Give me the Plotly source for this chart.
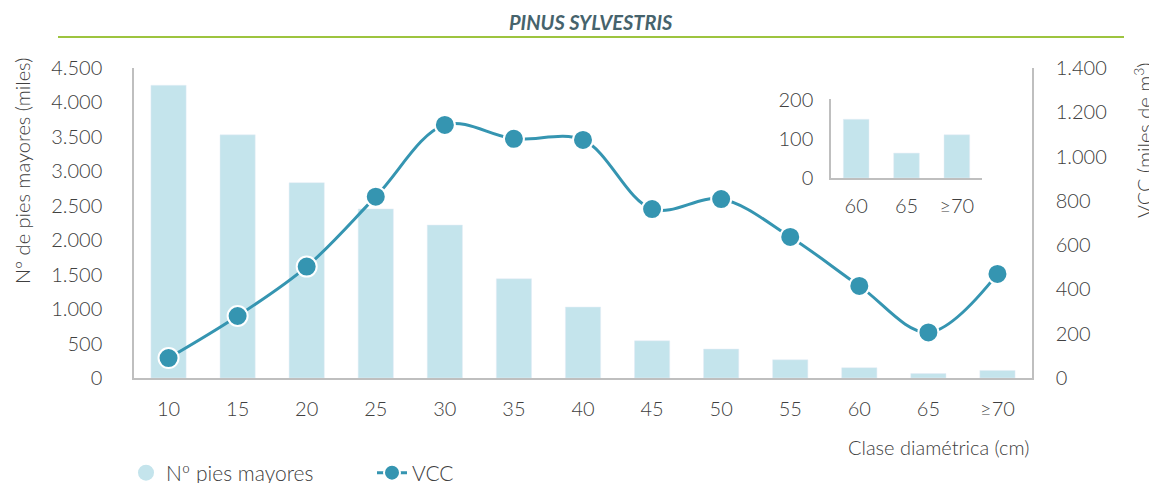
import plotly.graph_objects as go

categories = ["10", "15", "20", "25", "30", "35", "40", "45", "50", "55", "60", "65", "≥70"]
pies_mayores = [4250, 3530, 2835, 2455, 2220, 1440, 1030, 540, 420, 265, 150, 64, 110]
vcc = [90, 280, 503, 819, 1143, 1080, 1075, 763, 808, 637, 416, 206, 470]

inset_categories = ["60", "65", "≥70"]
inset_values = [151, 64, 111]

left_ticks = [0, 500, 1000, 1500, 2000, 2500, 3000, 3500, 4000, 4500]
right_ticks = [0, 200, 400, 600, 800, 1000, 1200, 1400]

BAR = "#C4E4EC"
LINE = "#3595B1"
AXIS = "#BFBFBF"
TXT = "#404040"
FONT = "Lato Light, Lato"
FS = 20

# plot area in page pixels (the page has an 8px body margin)
PL, PR, PT, PB = 134, 1032, 68, 378
PW, PH = PR - PL, PB - PT


def px(x):
    return (x - PL) / PW


def py(y):
    return (PB - y) / PH


fig = go.Figure()
fig.add_trace(go.Bar(x=categories, y=pies_mayores, marker_color=BAR, name="Nº pies mayores",
                     showlegend=False, xaxis="x", yaxis="y"))
fig.add_trace(go.Scatter(x=[None], y=[None], mode="markers", name="Nº pies mayores",
                         marker=dict(color=BAR, size=20, symbol="circle"), xaxis="x", yaxis="y",
                         legend="legend"))
fig.add_trace(go.Scatter(x=categories, y=vcc, mode="lines+markers", name="VCC",
                         line=dict(color=LINE, width=3, shape="spline", smoothing=1),
                         marker=dict(color=LINE, size=20, line=dict(color="white", width=2)),
                         xaxis="x", yaxis="y2", legend="legend2"))
fig.add_trace(go.Bar(x=inset_categories, y=inset_values, marker_color=BAR, showlegend=False,
                     xaxis="x3", yaxis="y3"))

fig.update_layout(
    width=1170, height=500,
    margin=dict(l=126, r=146, t=60, b=130),
    paper_bgcolor="white", plot_bgcolor="rgba(0,0,0,0)",
    separators=",.",
    font=dict(family=FONT, size=FS, color=TXT, weight=300),
    bargap=0.49,
    xaxis=dict(domain=[0, 1], type="category", range=[-0.5, 12.5], showline=True, linecolor=AXIS,
               linewidth=1.5, showgrid=False, ticks="", ticklabelstandoff=12),
    yaxis=dict(range=[0, 4500], tickvals=left_ticks, tickformat=",", showline=True, linecolor=AXIS,
               linewidth=1.5, showgrid=False, zeroline=False, ticks="", ticklabelstandoff=26),
    yaxis2=dict(range=[0, 1400], tickvals=right_ticks, tickformat=",", overlaying="y", side="right",
                showline=True, linecolor=AXIS, linewidth=1.5, showgrid=False, zeroline=False,
                ticks="", ticklabelstandoff=18),
    xaxis3=dict(domain=[px(831), px(982)], anchor="y3", type="category", range=[-0.5, 2.5],
                showline=True, linecolor=AXIS, linewidth=1.5, showgrid=False, ticks="",
                ticklabelstandoff=9),
    yaxis3=dict(domain=[py(178), py(99)], anchor="x3", range=[0, 203], tickvals=[0, 100, 200],
                showline=True, linecolor=AXIS, linewidth=1.5, showgrid=False, zeroline=False,
                ticks="", ticklabelstandoff=12),
    legend=dict(orientation="h", x=px(126), xanchor="left", y=py(473), yanchor="middle",
                font=dict(size=21), bgcolor="rgba(0,0,0,0)"),
    legend2=dict(orientation="h", x=px(372), xanchor="left", y=py(473), yanchor="middle",
                 font=dict(size=21), bgcolor="rgba(0,0,0,0)"),
    showlegend=True,
)

fig.add_annotation(text="PINUS SYLVESTRIS", xref="paper", yref="paper",
                   x=px(591), y=py(22), xanchor="center", yanchor="middle", showarrow=False,
                   font=dict(family="Lato", size=20, color="#46636C", weight=700, style="italic"))
fig.add_shape(type="line", xref="paper", yref="paper", x0=px(58), x1=px(1124),
              y0=py(37), y1=py(37), line=dict(color="#9DC43F", width=2))
fig.add_annotation(text="Nº de pies mayores (miles)", xref="paper", yref="paper",
                   x=px(22), y=py(171), textangle=-90, showarrow=False,
                   xanchor="center", yanchor="middle", font=dict(size=FS))
fig.add_annotation(text="VCC (miles de m<sup>3</sup>)", xref="paper", yref="paper",
                   x=px(1143), y=py(140), textangle=-90, showarrow=False,
                   xanchor="center", yanchor="middle", font=dict(size=FS))
fig.add_annotation(text="Clase diamétrica (cm)", xref="paper", yref="paper",
                   x=px(1031), y=py(447), xanchor="right", yanchor="middle",
                   showarrow=False, font=dict(size=FS))

fig.write_html("out.html")
